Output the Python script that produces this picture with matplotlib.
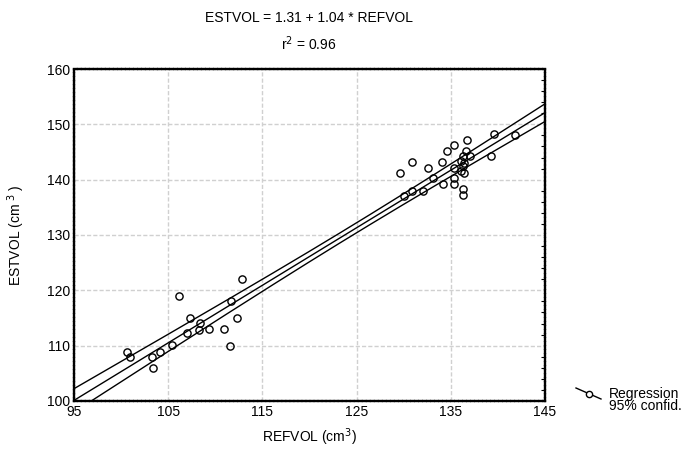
import numpy as np
import matplotlib
matplotlib.use("Agg")
import matplotlib.pyplot as plt
from matplotlib.lines import Line2D

plt.rcParams['font.family'] = ['Liberation Sans', 'DejaVu Sans']

# reference volume vs estimated volume (cm^3)
refvol = [100.6, 100.9, 103.3, 103.4, 104.1, 105.4, 106.1, 107.0, 107.3, 108.4,
          108.3, 109.3, 110.9, 111.6, 111.7, 112.3, 112.8,
          129.6, 130.0, 130.9, 130.9, 132.0, 132.6, 133.1, 134.1, 134.2, 134.6,
          135.3, 135.3, 135.3, 135.3, 136.1, 136.1, 136.3, 136.3, 136.4, 136.4,
          136.6, 136.7, 136.3, 136.3, 137.0, 139.3, 139.6, 141.8]
estvol = [108.9, 108.0, 108.0, 105.9, 108.9, 110.1, 119.0, 112.2, 115.0, 114.1,
          112.8, 113.0, 113.0, 110.0, 118.0, 115.0, 122.0,
          141.2, 137.1, 138.0, 143.2, 138.0, 142.1, 140.3, 143.2, 139.2, 145.1,
          146.3, 142.1, 140.3, 139.2, 143.3, 141.5, 144.2, 142.4, 141.2, 143.0,
          145.1, 147.2, 138.3, 137.3, 144.2, 144.3, 148.3, 148.1]

intercept = 1.31
slope = 1.04
r2 = 0.96

xticks = [95, 105, 115, 125, 135, 145]
yticks = [100, 110, 120, 130, 140, 150, 160]

x = np.array(refvol)
y = np.array(estvol)
n = len(x)

# regression line + 95% confidence band of the mean
xs = np.linspace(95, 145, 200)
fit = intercept + slope * xs
resid = y - (intercept + slope * x)
s = np.sqrt(np.sum(resid ** 2) / (n - 2))
sxx = np.sum((x - x.mean()) ** 2)
half = 2.017 * s * np.sqrt(1.0 / n + (xs - x.mean()) ** 2 / sxx)

fig = plt.figure(figsize=(6.86, 4.53), dpi=100)
ax = fig.add_axes([74 / 686, 1 - 401 / 453, 471 / 686, 332 / 453])

ax.plot(xs, fit, color='black', lw=1.0)
ax.plot(xs, fit + half, color='black', lw=1.0)
ax.plot(xs, fit - half, color='black', lw=1.0)
ax.plot(x, y, 'o', mfc='none', mec='black', mew=1.0, ms=5.2)

ax.set_xlim(95, 145)
ax.set_ylim(100, 160)
ax.set_xticks(xticks)
ax.set_yticks(yticks)
ax.set_yticks(np.arange(100, 161, 2), minor=True)
ax.grid(True, color='#d0d0d0', linestyle=(0, (3, 1.5)), lw=1.0)
ax.tick_params(labelsize=10, length=0, pad=3)
ax.tick_params(which='minor', left=False, right=True, direction='in', length=3, width=0.8)
for sp in ax.spines.values():
    sp.set_linestyle((0, (1, 0.7)))
    sp.set_linewidth(1.7)

ax.set_xlabel('REFVOL (cm$^3$)', fontsize=10, labelpad=5)
ax.set_ylabel('ESTVOL (cm$^{\\ 3}$ )', fontsize=10, labelpad=14)

fig.text(309 / 686, 1 - 18 / 453, 'ESTVOL = %.2f + %.2f * REFVOL' % (intercept, slope),
         ha='center', va='center', fontsize=10)
fig.text(309 / 686, 1 - 44 / 453, 'r$^2$ = %.2f' % r2,
         ha='center', va='center', fontsize=10)

# legend swatch
fig.add_artist(Line2D([576 / 686, 601 / 686], [1 - 388 / 453, 1 - 399 / 453],
                      color='black', lw=1.0, transform=fig.transFigure))
fig.add_artist(Line2D([589 / 686], [1 - 393.5 / 453], marker='o', mfc='white',
                      mec='black', mew=1.0, ms=4.5, transform=fig.transFigure))
fig.text(609 / 686, 1 - 387 / 453, 'Regression\n95% confid.', fontsize=10,
         va='top', linespacing=0.85)

fig.savefig('out.png', dpi=100)
